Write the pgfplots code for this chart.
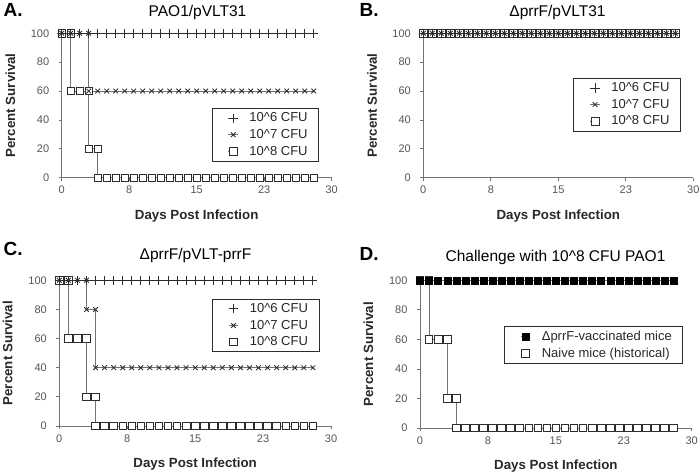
\documentclass[border=0pt]{standalone}
\usepackage{pgfplots}
\usepackage{pgfplotstable}
\pgfplotsset{compat=1.18}
\usepackage{fontspec}
\setmainfont{Liberation Sans}
\definecolor{lngray}{RGB}{115,115,115}
\definecolor{mkgray}{RGB}{45,45,45}
\definecolor{tkgray}{RGB}{85,85,85}
\definecolor{lbgray}{RGB}{40,40,40}

\pgfplotstableread{
x y
0 100
1 100
2 100
3 100
4 100
5 100
6 100
7 100
8 100
9 100
10 100
11 100
12 100
13 100
14 100
15 100
16 100
17 100
18 100
19 100
20 100
21 100
22 100
23 100
24 100
25 100
26 100
27 100
28 100
}\fulltab

\pgfplotstableread{
x y
0 100
1 100
2 100
3 100
3 60
4 60
5 60
6 60
7 60
8 60
9 60
10 60
11 60
12 60
13 60
14 60
15 60
16 60
17 60
18 60
19 60
20 60
21 60
22 60
23 60
24 60
25 60
26 60
27 60
28 60
}\asevtab

\pgfplotstableread{
x y
0 100
1 100
1 60
2 60
3 60
3 20
4 20
4 0
5 0
6 0
7 0
8 0
9 0
10 0
11 0
12 0
13 0
14 0
15 0
16 0
17 0
18 0
19 0
20 0
21 0
22 0
23 0
24 0
25 0
26 0
27 0
28 0
}\eighttab

\pgfplotstableread{
x y
0 100
1 100
2 100
3 100
3 80
4 80
4 40
5 40
6 40
7 40
8 40
9 40
10 40
11 40
12 40
13 40
14 40
15 40
16 40
17 40
18 40
19 40
20 40
21 40
22 40
23 40
24 40
25 40
26 40
27 40
28 40
}\csevtab

\pgfplotsset{
  panel/.style={
    scale only axis,
    xmin=0, xmax=30, ymin=0, ymax=100,
    axis x line=bottom, axis y line=left,
    axis line style={-, lngray, line width=0.9pt},
    xtick={0,7.5,15,22.5,30},
    xticklabels={0,8,15,23,30},
    ytick={0,20,40,60,80,100},
    tick align=outside,
    major tick length=3pt,
    tick style={lngray, line width=0.8pt},
    /pgf/number format/assume math mode=true,
    tick label style={font=\fontsize{11}{13}\selectfont, text=tkgray},
    xticklabel style={yshift=-2pt},
    yticklabel style={xshift=-6pt},
    clip=false,
    xlabel={Days Post Infection},
    ylabel={Percent Survival},
    xlabel style={at={(axis description cs:0.5,0)}, anchor=center, yshift=-38pt, font=\bfseries\fontsize{13.3}{15}\selectfont, text=lbgray},
    ylabel style={at={(axis description cs:-0.19,0.5)}, anchor=center, font=\bfseries\fontsize{13.3}{15}\selectfont, text=lbgray},
    legend cell align=left,
    legend style={draw=mkgray, line width=0.8pt, font=\fontsize{13}{15.5}\selectfont,
      inner xsep=9pt, inner ysep=2.5pt, row sep=2pt,
      nodes={inner sep=2pt}, text=lbgray},
    legend image code/.code={\path (-7pt,0cm) (0.34cm+9pt,0cm);
      \draw[mark repeat=2,mark phase=2] plot coordinates {(0cm,0cm) (0.17cm,0cm) (0.34cm,0cm)};},
  },
  s6/.style={color=lngray, line width=0.9pt, mark=+, mark size=4.6pt, mark options={draw=mkgray, line width=0.85pt}},
  s7/.style={color=lngray, line width=0.9pt, mark=x, mark size=3.3pt, mark options={draw=mkgray, line width=0.85pt}},
  s8/.style={color=lngray, line width=0.9pt, mark=square*, mark size=3.8pt, mark options={draw=mkgray, fill=white, line width=0.75pt}},
  sv/.style={color=lngray, line width=0.9pt, mark=square*, mark size=3.5pt, mark options={draw=black, fill=black, line width=0.3pt}},
}

\begin{document}
\begin{tikzpicture}[x=1pt,y=1pt]
\useasboundingbox (0,0) rectangle (700,473);

% Panel A
\begin{axis}[panel, at={(61.7pt,295.3pt)}, anchor=south west, width=270pt, height=144.4pt,
  reverse legend, legend style={at={(0.953,0.483)}, anchor=north east}]
\addplot[s8] table {\eighttab};
\addplot[s7] table {\asevtab};
\addplot[s6] table {\fulltab};
\legend{10\^{}8 CFU,10\^{}7 CFU,10\^{}6 CFU}
\end{axis}
\node[anchor=north west, font=\bfseries\fontsize{19}{21}\selectfont] at (0,473) {A.};
\node[font=\fontsize{15.5}{18}\selectfont] at (197.5,460.3) {PAO1/pVLT31};

% Panel B
\begin{axis}[panel, at={(423.3pt,295.3pt)}, anchor=south west, width=270pt, height=144.4pt,
  reverse legend, legend style={at={(0.954,0.692)}, anchor=north east}]
\addplot[s8] table {\fulltab};
\addplot[s7] table {\fulltab};
\addplot[s6] table {\fulltab};
\legend{10\^{}8 CFU,10\^{}7 CFU,10\^{}6 CFU}
\end{axis}
\node[anchor=north west, font=\bfseries\fontsize{19}{21}\selectfont] at (356,473) {B.};
\node[font=\fontsize{15.5}{18}\selectfont] at (557.5,460) {ΔprrF/pVLT31};

% Panel C
\begin{axis}[panel, at={(59.3pt,47pt)}, anchor=south west, width=271.7pt, height=145.7pt,
  reverse legend, legend style={at={(0.957,0.874)}, anchor=north east}]
\addplot[s8] table {\eighttab};
\addplot[s7] table {\csevtab};
\addplot[s6] table {\fulltab};
\legend{10\^{}8 CFU,10\^{}7 CFU,10\^{}6 CFU}
\end{axis}
\node[anchor=north west, font=\bfseries\fontsize{19}{21}\selectfont] at (0,234) {C.};
\node[font=\fontsize{15.5}{18}\selectfont] at (195.5,218) {ΔprrF/pVLT-prrF};

% Panel D
\begin{axis}[panel, at={(420pt,45pt)}, anchor=south west, width=271.7pt, height=147.7pt,
  legend style={at={(0.969,0.689)}, anchor=north east}]
\addplot[s8, forget plot] table {\eighttab};
\addplot[sv] table {\fulltab};
\addlegendentry{ΔprrF-vaccinated mice}
\addlegendimage{only marks, mark=square*, mark size=3.7pt, mark options={draw=mkgray, fill=white, line width=0.7pt}}
\addlegendentry{Naive mice (historical)}
\end{axis}
\node[anchor=north west, font=\bfseries\fontsize{19}{21}\selectfont] at (356,229) {D.};
\node[font=\fontsize{15.5}{18}\selectfont] at (555.5,216) {Challenge with 10\^{}8 CFU PAO1};
\end{tikzpicture}
\end{document}
